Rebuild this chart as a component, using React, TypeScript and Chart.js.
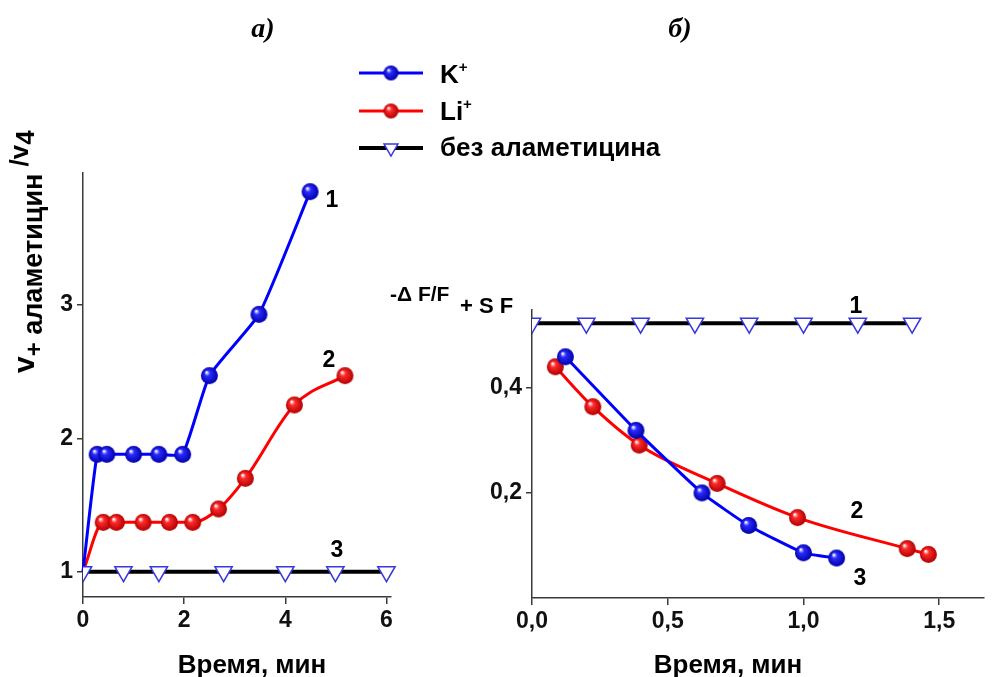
import React, { useEffect, useRef } from 'react';
import { Chart, registerables } from 'chart.js';
Chart.register(...registerables);

// ---------- data: panel a) ----------
const kLeftX = [0, 0.28, 0.47, 1.0, 1.5, 1.97, 2.5, 3.48, 4.49];
const kLeftY = [1.0, 1.88, 1.88, 1.88, 1.88, 1.88, 2.47, 2.93, 3.85];
const liLeftX = [0, 0.40, 0.66, 1.19, 1.71, 2.17, 2.68, 3.21, 4.18, 5.18];
const liLeftY = [1.0, 1.37, 1.37, 1.37, 1.37, 1.37, 1.47, 1.70, 2.25, 2.47];
const ctrlLeftX = [0, 0.8, 1.5, 2.78, 4.0, 4.99, 6.0];
const ctrlLeftY = [1, 1, 1, 1, 1, 1, 1];
const leftXTicks = [0, 2, 4, 6];
const leftYTicks = [1, 2, 3];

// ---------- data: panel б) ----------
const kRightX = [0.123, 0.383, 0.626, 0.798, 1.0, 1.122];
const kRightY = [0.459, 0.319, 0.2, 0.138, 0.086, 0.076];
const liRightX = [0.086, 0.224, 0.395, 0.682, 0.978, 1.382, 1.46];
const liRightY = [0.44, 0.364, 0.291, 0.218, 0.153, 0.094, 0.083];
const ctrlRightX = [0, 0.2, 0.4, 0.6, 0.8, 1.0, 1.2, 1.4];
const ctrlRightY = [0.523, 0.523, 0.523, 0.523, 0.523, 0.523, 0.523, 0.523];
const rightXTicks = [0, 0.5, 1.0, 1.5];
const rightYTicks = [0.2, 0.4];

const W = 995;
const H = 677;
const BLUE = '#0000ff';
const RED = '#ff0000';
const BLACK = '#000000';
const TRI = '#3838dc';
const AXIS = '#3a3a3a';
const FAM = 'Arial, "Liberation Sans", sans-serif';
const TICK_FONT = { family: FAM, size: 23, weight: 'bold' as const };

function makeSphere(color: string, dark: string, r: number): HTMLCanvasElement {
  const c = document.createElement('canvas');
  const s = Math.ceil(r * 2 + 2);
  c.width = s;
  c.height = s;
  const g = c.getContext('2d')!;
  const cx = s / 2;
  const cy = s / 2;
  const grad = g.createRadialGradient(cx - r * 0.35, cy - r * 0.4, r * 0.05, cx, cy, r);
  grad.addColorStop(0, '#ffffff');
  grad.addColorStop(0.3, color);
  grad.addColorStop(1, dark);
  g.fillStyle = grad;
  g.beginPath();
  g.arc(cx, cy, r, 0, Math.PI * 2);
  g.fill();
  return c;
}

function pts(xs: number[], ys: number[]) {
  return xs.map((x, i) => ({ x, y: ys[i] }));
}

function fixedTicks(values: number[]) {
  return (scale: any) => {
    scale.ticks = values.map((v) => ({ value: v }));
  };
}

function drawRuns(ctx: CanvasRenderingContext2D, x: number, y: number, parts: [string, string, number][]) {
  let cx = x;
  for (const [t, font, dy] of parts) {
    ctx.font = font;
    ctx.fillText(t, cx, y + dy);
    cx += ctx.measureText(t).width;
  }
}

function downTriangle(ctx: CanvasRenderingContext2D, x: number, y: number, r: number) {
  ctx.beginPath();
  for (let k = 0; k < 3; k++) {
    const a = Math.PI + k * (2 * Math.PI / 3);
    const px = x + Math.sin(a) * r;
    const py = y - Math.cos(a) * r;
    if (k === 0) ctx.moveTo(px, py);
    else ctx.lineTo(px, py);
  }
  ctx.closePath();
  ctx.fillStyle = '#ffffff';
  ctx.fill();
  ctx.lineWidth = 1.5;
  ctx.strokeStyle = TRI;
  ctx.stroke();
}

function axisScale(min: number, max: number, ticks: number[], fmt: (v: number) => string, fitKey: 'width' | 'height', fitVal: number, pad: number, tickLen: number) {
  return {
    type: 'linear' as const,
    min,
    max,
    afterBuildTicks: fixedTicks(ticks),
    afterFit: (scale: any) => {
      scale[fitKey] = fitVal;
    },
    grid: { drawOnChartArea: false, drawTicks: true, tickLength: tickLen, color: AXIS, lineWidth: 1.5 },
    border: { display: true, color: AXIS, width: 1.5 },
    ticks: { font: TICK_FONT, color: '#111111', padding: pad, callback: (v: any) => fmt(Number(v)) },
  };
}

const intFmt = (v: number) => String(Math.round(v));
const commaFmt = (v: number) => v.toFixed(1).replace('.', ',');

export default function App() {
  const leftRef = useRef<HTMLCanvasElement>(null);
  const rightRef = useRef<HTMLCanvasElement>(null);

  useEffect(() => {
    const blueSphere = makeSphere('#2a2aff', '#0000a8', 8.5);
    const redSphere = makeSphere('#ff2a2a', '#b00000', 8.5);
    const blueSphereS = makeSphere('#2a2aff', '#0000a8', 7.5);
    const redSphereS = makeSphere('#ff2a2a', '#b00000', 7.5);

    const textPlugin = {
      id: 'texts',
      afterDraw(chart: any) {
        const ctx: CanvasRenderingContext2D = chart.ctx;
        ctx.save();
        ctx.fillStyle = '#000000';
        ctx.textBaseline = 'alphabetic';
        // panel titles
        ctx.textAlign = 'center';
        ctx.font = 'italic bold 28px "Liberation Serif", "Times New Roman", serif';
        ctx.fillText('a)', 263, 37);
        ctx.fillText('б)', 680, 37);

        // legend
        ctx.lineCap = 'butt';
        ctx.lineWidth = 3;
        ctx.strokeStyle = BLUE;
        ctx.beginPath(); ctx.moveTo(359, 73); ctx.lineTo(423, 73); ctx.stroke();
        ctx.drawImage(blueSphereS, 391 - blueSphereS.width / 2, 73 - blueSphereS.height / 2);
        ctx.strokeStyle = RED;
        ctx.beginPath(); ctx.moveTo(359, 111); ctx.lineTo(423, 111); ctx.stroke();
        ctx.drawImage(redSphereS, 391 - redSphereS.width / 2, 111 - redSphereS.height / 2);
        ctx.lineWidth = 4;
        ctx.strokeStyle = BLACK;
        ctx.beginPath(); ctx.moveTo(359, 148); ctx.lineTo(423, 148); ctx.stroke();
        downTriangle(ctx, 391, 148, 8);

        ctx.fillStyle = '#000000';
        ctx.textAlign = 'left';
        drawRuns(ctx, 440, 83, [['K', `bold 26px ${FAM}`, 0], ['+', `bold 15px ${FAM}`, -11]]);
        drawRuns(ctx, 440, 120, [['Li', `bold 26px ${FAM}`, 0], ['+', `bold 15px ${FAM}`, -11]]);
        ctx.font = `bold 26px ${FAM}`;
        ctx.fillText('без аламетицина', 440, 156);

        // left y-axis title (rotated)
        ctx.save();
        ctx.translate(34, 373);
        ctx.rotate(-Math.PI / 2);
        drawRuns(ctx, 0, 0, [
          ['v', `bold 30px ${FAM}`, 0],
          ['+', `bold 24px ${FAM}`, 8],
          [' аламетицин', `bold 27px ${FAM}`, 8],
          [' /v', `bold 26px ${FAM}`, -6],
          ['4', `bold 26px ${FAM}`, 0],
        ]);
        ctx.restore();

        // right y-axis title
        drawRuns(ctx, 390, 301, [['-Δ F/F', `bold 21px ${FAM}`, 0]]);
        drawRuns(ctx, 460, 313, [['+ S F', `bold 22px ${FAM}`, 0]]);

        // x-axis titles
        ctx.textAlign = 'center';
        ctx.font = `bold 26px ${FAM}`;
        ctx.fillText('Время, мин', 252, 673);
        ctx.fillText('Время, мин', 728, 673);

        // curve numbers
        ctx.font = `bold 23px ${FAM}`;
        ctx.fillText('1', 332, 207);
        ctx.fillText('2', 329, 367);
        ctx.fillText('3', 337, 557);
        ctx.fillText('1', 856, 313);
        ctx.fillText('2', 857, 518);
        ctx.fillText('3', 860, 585);
        ctx.restore();
      },
    };

    const lineDs = (label: string, xs: number[], ys: number[], color: string, sphere: HTMLCanvasElement, skipFirst: boolean, smooth: 'monotone' | number) => ({
      label,
      data: pts(xs, ys),
      borderColor: color,
      backgroundColor: color,
      borderWidth: 3,
      ...(smooth === 'monotone'
        ? { cubicInterpolationMode: 'monotone' as const }
        : { cubicInterpolationMode: 'default' as const, tension: smooth }),
      pointStyle: sphere as any,
      pointRadius: xs.map((_, i) => (skipFirst && i === 0 ? 0 : 8)),
      clip: false as any,
    });

    const ctrlDs = (xs: number[], ys: number[]) => ({
      label: 'без аламетицина',
      data: pts(xs, ys),
      borderColor: BLACK,
      borderWidth: 4,
      tension: 0,
      pointStyle: 'triangle' as const,
      rotation: 180,
      pointRadius: 10,
      pointBackgroundColor: '#ffffff',
      pointBorderColor: TRI,
      pointBorderWidth: 1.5,
      clip: { left: 0, top: false, right: false, bottom: false } as any,
    });

    const common = {
      responsive: false,
      animation: false as const,
      devicePixelRatio: 1,
      events: [] as any[],
      plugins: { legend: { display: false }, tooltip: { enabled: false } },
    };

    const left = new Chart(leftRef.current!, {
      type: 'line',
      data: {
        datasets: [
          ctrlDs(ctrlLeftX, ctrlLeftY),
          lineDs('K+', kLeftX, kLeftY, BLUE, blueSphere, true, 0.15),
          lineDs('Li+', liLeftX, liLeftY, RED, redSphere, true, 'monotone'),
        ] as any,
      },
      options: {
        ...common,
        layout: { padding: { left: 33, right: W - 391, top: 173, bottom: H - 597 - 50 } },
        scales: {
          x: axisScale(0, 6.09, leftXTicks, intFmt, 'height', 50, 3, 7),
          y: axisScale(0.81, 3.99, leftYTicks, intFmt, 'width', 50, 4, 6),
        },
      } as any,
      plugins: [textPlugin],
    });

    const right = new Chart(rightRef.current!, {
      type: 'line',
      data: {
        datasets: [
          ctrlDs(ctrlRightX, ctrlRightY),
          lineDs('K+', kRightX, kRightY, BLUE, blueSphere, false, 0.15),
          lineDs('Li+', liRightX, liRightY, RED, redSphere, false, 'monotone'),
        ] as any,
      },
      options: {
        ...common,
        layout: { padding: { left: 532 - 50, right: 0, top: 310, bottom: H - 598 - 50 } },
        scales: {
          x: axisScale(0, 1.663, rightXTicks, commaFmt, 'height', 50, 3, 7),
          y: axisScale(0, 0.548, rightYTicks, commaFmt, 'width', 50, 4, 6),
        },
      } as any,
    });

    return () => {
      left.destroy();
      right.destroy();
    };
  }, []);

  return (
    <div style={{ position: 'absolute', left: 0, top: 0, width: W, height: H, background: '#ffffff', overflow: 'hidden' }}>
      <canvas ref={leftRef} width={W} height={H} style={{ position: 'absolute', left: 0, top: 0, width: W, height: H }} />
      <canvas ref={rightRef} width={W} height={H} style={{ position: 'absolute', left: 0, top: 0, width: W, height: H }} />
    </div>
  );
}
